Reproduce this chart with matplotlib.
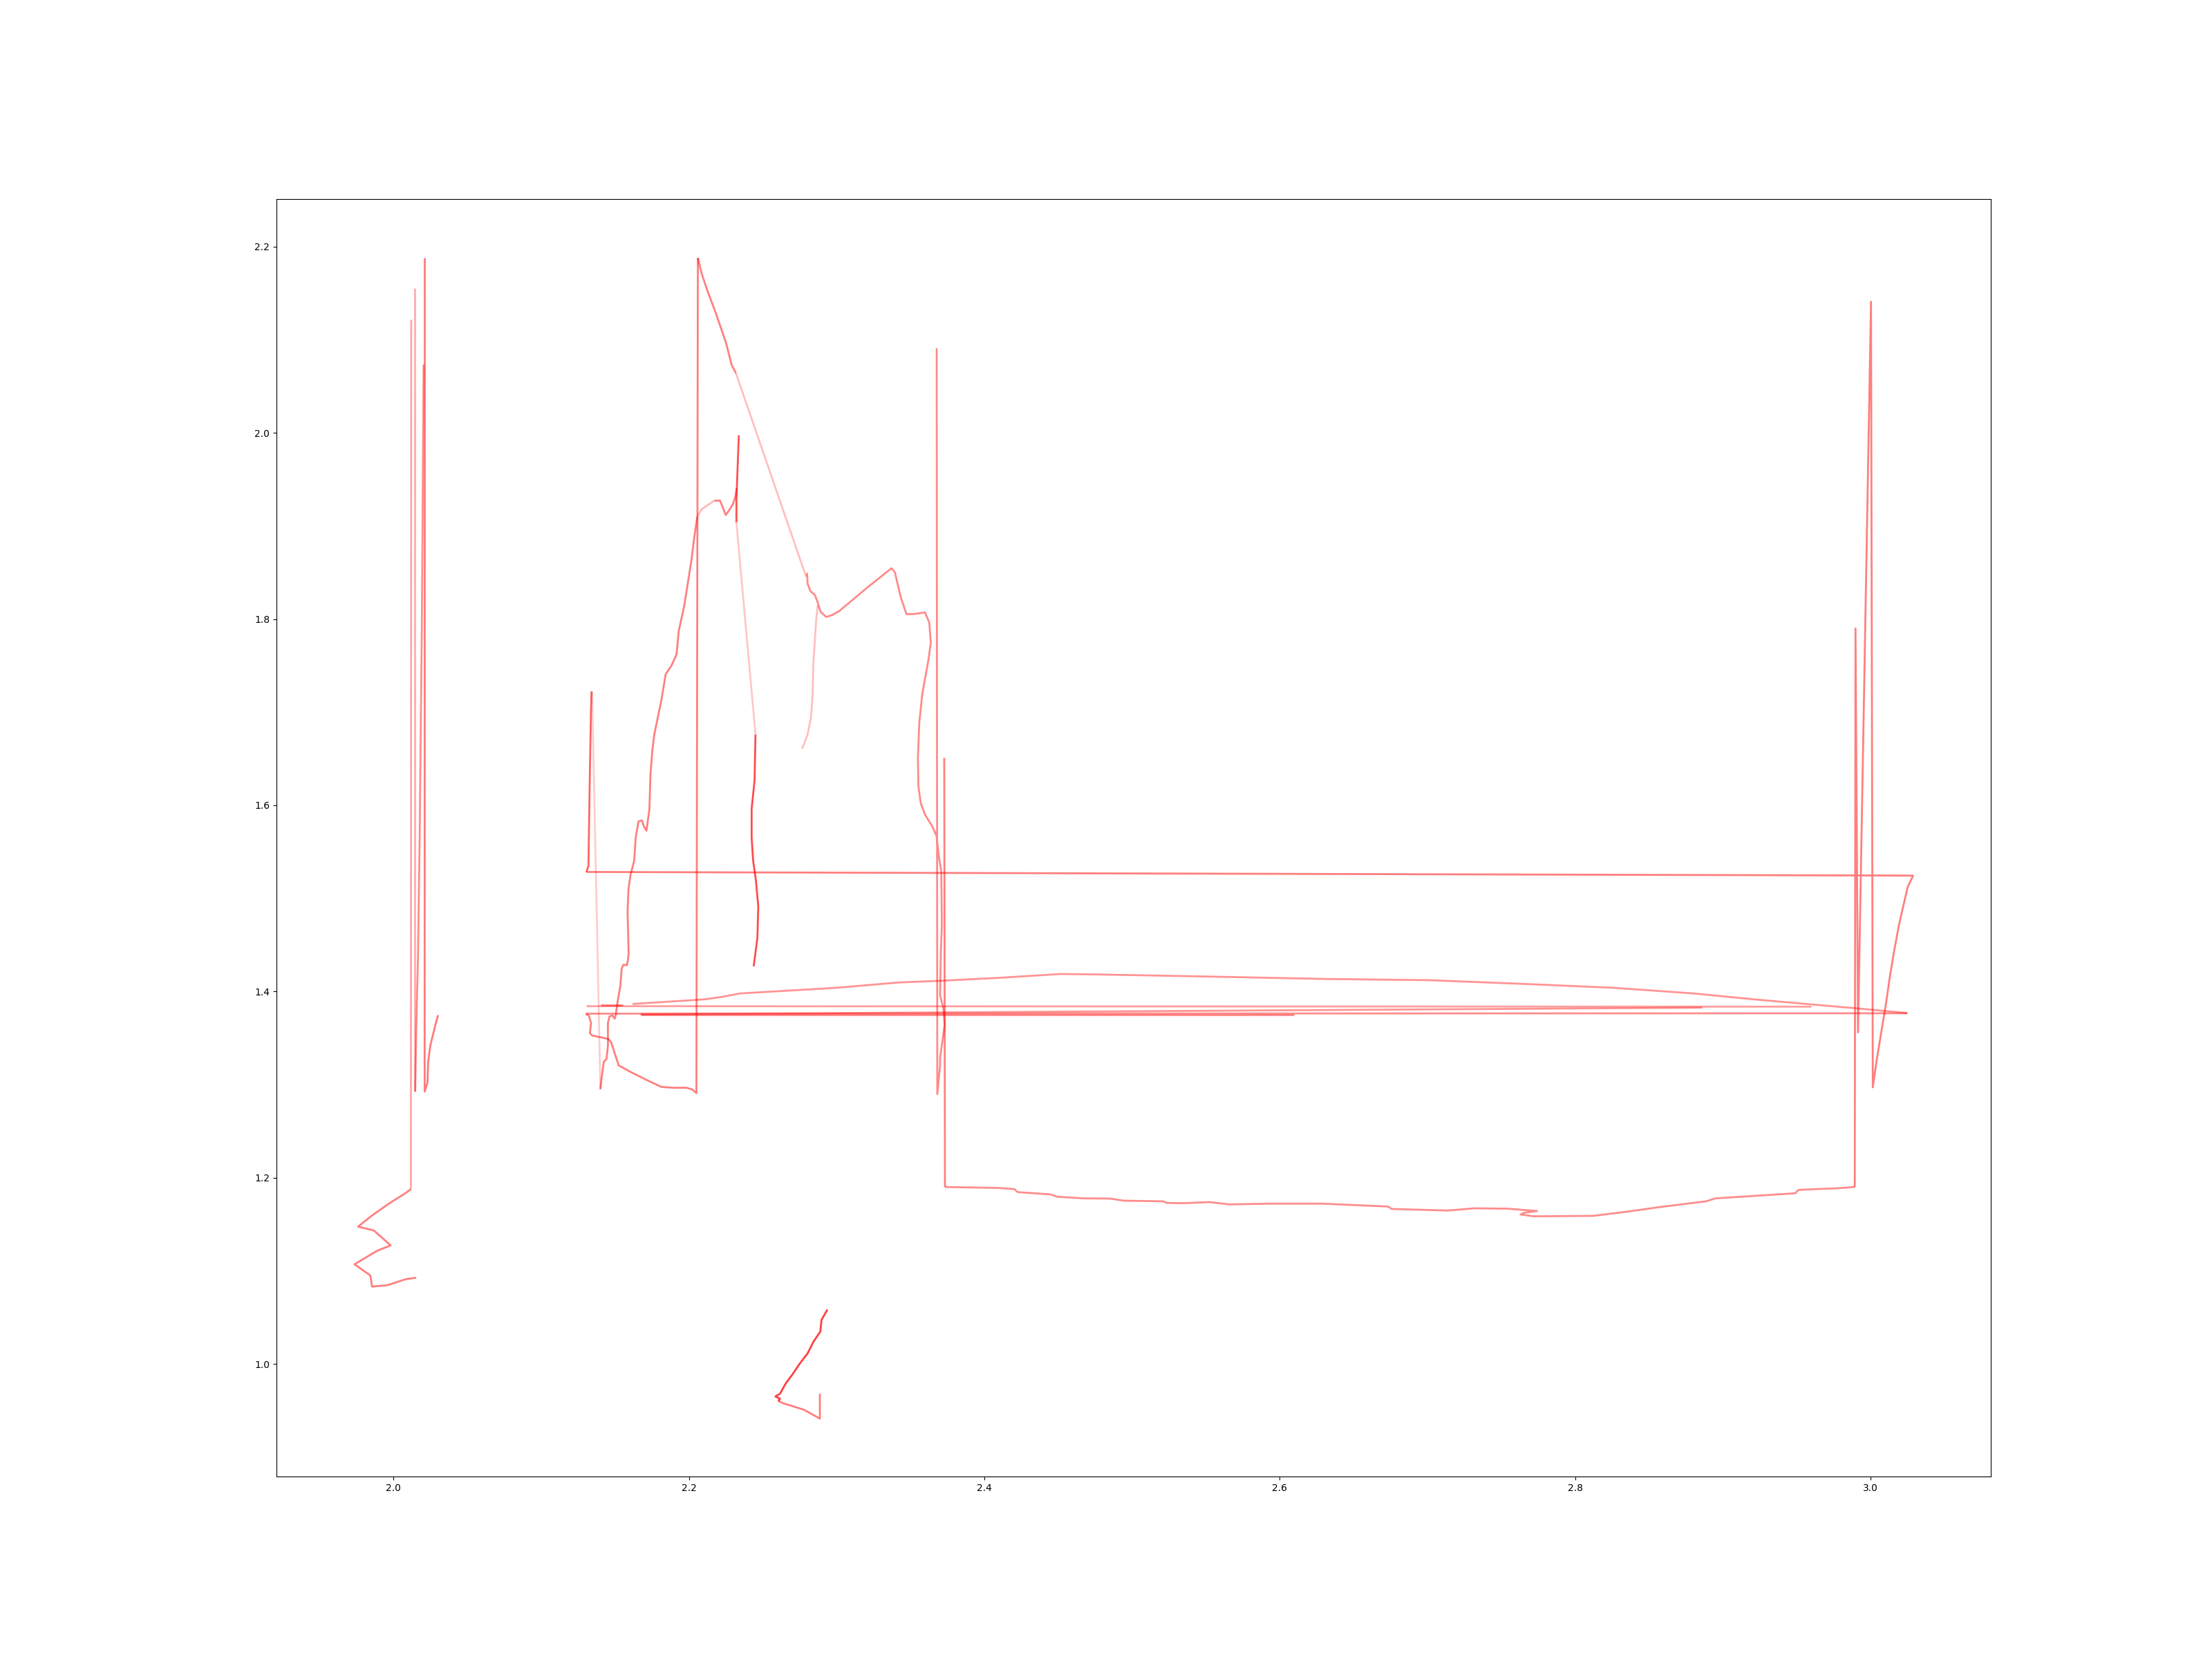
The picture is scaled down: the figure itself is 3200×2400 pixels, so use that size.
import matplotlib
matplotlib.use("Agg")
import matplotlib.pyplot as plt

# ---- data ----
# left cluster
sq_x = [2.0117, 2.0081, 1.9962, 1.9854, 1.9759, 1.9866, 1.9980, 1.9890, 1.9735, 1.9842, 1.9854, 1.9958, 2.0081, 2.0153]
sq_y = [1.1876, 1.1835, 1.1715, 1.1594, 1.1474, 1.1433, 1.1273, 1.1216, 1.1070, 1.0950, 1.0830, 1.0845, 1.0909, 1.0926]
lv1_x = [2.0117, 2.0119]
lv1_y = [1.1876, 2.1216]
lv2_x = [2.0143, 2.0143]
lv2_y = [1.2925, 2.1555]
lv3_x = [2.0203, 2.0191, 2.0184, 2.0177, 2.0165, 2.0153, 2.0146]
lv3_y = [2.0734, 1.7916, 1.6870, 1.5742, 1.4374, 1.3569, 1.2925]
lv4_x = [2.0211, 2.0210, 2.0229, 2.0234, 2.0249, 2.0272, 2.0284, 2.0301]
lv4_y = [2.1877, 1.2925, 1.3021, 1.3247, 1.3424, 1.3569, 1.3649, 1.3746]

# middle cluster
mv_x = [2.1305, 2.1319, 2.1328, 2.1336, 2.1340]
mv_y = [1.5284, 1.5346, 1.6270, 1.7008, 1.7223]
lt1_x = [2.1344, 2.1400]
lt1_y = [1.7223, 1.2951]
flank_x = [2.1400, 2.1407, 2.1423, 2.1441, 2.1451, 2.1451, 2.1462, 2.1482, 2.1497, 2.1504, 2.1516,
           2.1535, 2.1544, 2.1555, 2.1579, 2.1586, 2.1591, 2.1590, 2.1584, 2.1590, 2.1604, 2.1629,
           2.1639, 2.1658, 2.1681, 2.1697, 2.1712, 2.1732, 2.1739, 2.1751, 2.1765, 2.1813, 2.1842,
           2.1881, 2.1916, 2.1930, 2.1968, 2.2017, 2.2036, 2.2056]
flank_y = [1.2951, 1.3057, 1.3243, 1.3273, 1.3416, 1.3663, 1.3733, 1.3743, 1.3708, 1.3750, 1.3886,
           1.4059, 1.4245, 1.4287, 1.4282, 1.4332, 1.4406, 1.4484, 1.4854, 1.5099, 1.5253, 1.5407,
           1.5654, 1.5826, 1.5838, 1.5764, 1.5727, 1.5961, 1.6331, 1.6577, 1.6761, 1.7131, 1.7408,
           1.7500, 1.7623, 1.7869, 1.8146, 1.8639, 1.8885, 1.9100]
plat1_x = [2.2056, 2.2085, 2.2172]
plat1_y = [1.9100, 1.9180, 1.9273]
plat2_x = [2.2172, 2.2210, 2.2230, 2.2249, 2.2268, 2.2298, 2.2314, 2.2323]
plat2_y = [1.9273, 1.9273, 1.9193, 1.9119, 1.9160, 1.9236, 1.9316, 1.9408]
peak_x = [2.2337, 2.2331, 2.2321, 2.2321]
peak_y = [1.9974, 1.9716, 1.9285, 1.9040]
lt2_x = [2.2321, 2.2450]
lt2_y = [1.9040, 1.6761]
dk_x = [2.2450, 2.2444, 2.2424, 2.2424, 2.2434, 2.2453, 2.2469, 2.2463, 2.2438]
dk_y = [1.6761, 1.6270, 1.5961, 1.5654, 1.5407, 1.5192, 1.4915, 1.4577, 1.4270]
bsq_x = [2.1301, 2.1321, 2.1337, 2.1329, 2.1345, 2.1454, 2.1473, 2.1501, 2.1524, 2.1610, 2.1719,
         2.1813, 2.1891, 2.1984, 2.2023, 2.2050, 2.2060]
bsq_y = [1.3758, 1.3743, 1.3663, 1.3552, 1.3527, 1.3490, 1.3453, 1.3317, 1.3206, 1.3131, 1.3045,
         1.2975, 1.2966, 1.2966, 1.2946, 1.2909, 2.1880]
diag_x = [2.2060, 2.2085, 2.2124, 2.2182, 2.2250, 2.2289, 2.2318]
diag_y = [2.1880, 2.1716, 2.1530, 2.1285, 2.0970, 2.0730, 2.0640]
lt3_x = [2.2318, 2.2793]
lt3_y = [2.0640, 1.8454]
mtn_x = [2.2799, 2.2803, 2.2822, 2.2851, 2.2871, 2.2890, 2.2929, 2.2968, 2.3016, 2.3210, 2.3371,
         2.3394, 2.3433, 2.3472, 2.3520, 2.3598, 2.3627, 2.3637, 2.3621, 2.3579, 2.3559, 2.3550,
         2.3553, 2.3569, 2.3598, 2.3646, 2.3676, 2.3692, 2.3708, 2.3712, 2.3705, 2.3700, 2.3723,
         2.3731, 2.3700, 2.3700, 2.3681, 2.3677]
mtn_y = [1.8497, 1.8380, 1.8300, 1.8263, 1.8180, 1.8080, 1.8023, 1.8043, 1.8085, 1.8343, 1.8546,
         1.8503, 1.8239, 1.8054, 1.8054, 1.8072, 1.7962, 1.7746, 1.7562, 1.7192, 1.6884, 1.6515,
         1.6207, 1.6023, 1.5900, 1.5777, 1.5670, 1.5445, 1.5293, 1.4725, 1.4400, 1.3960, 1.3810,
         1.3640, 1.3290, 1.3206, 1.2897, 2.0910]
lt4_x = [2.2871, 2.2861, 2.2851, 2.2841, 2.2837, 2.2826, 2.2803, 2.2774, 2.2764]
lt4_y = [1.8146, 1.7992, 1.7746, 1.7500, 1.7192, 1.6946, 1.6761, 1.6638, 1.6608]
v2_x = [2.3728, 2.3733]
v2_y = [1.6510, 1.1900]

# bottom trace
bot_x = [2.3733, 2.4091, 2.4203, 2.4225, 2.4449, 2.4494, 2.4673, 2.4853, 2.4942, 2.5211, 2.5234,
         2.5345, 2.5525, 2.5659, 2.5928, 2.6286, 2.6734, 2.6757, 2.7137, 2.7317, 2.7541, 2.7742,
         2.7652, 2.7630, 2.7720, 2.8123, 2.8347, 2.8571, 2.8885, 2.8952, 2.9489, 2.9512, 2.9781,
         2.9893]
bot_y = [1.1900, 1.1890, 1.1877, 1.1845, 1.1820, 1.1795, 1.1778, 1.1775, 1.1753, 1.1746, 1.1729,
         1.1726, 1.1738, 1.1713, 1.1721, 1.1721, 1.1690, 1.1664, 1.1647, 1.1671, 1.1667, 1.1642,
         1.1622, 1.1605, 1.1585, 1.1590, 1.1634, 1.1684, 1.1746, 1.1778, 1.1832, 1.1869, 1.1887,
         1.1900]

# right spikes and return curve
rs_x = [2.9893, 2.9898, 2.9915, 3.0003, 3.0015, 3.0042, 3.0073, 3.0104, 3.0128, 3.0159, 3.0190,
        3.0213, 3.0252, 3.0288, 2.1305]
rs_y = [1.1900, 1.7900, 1.3560, 2.1410, 1.2970, 1.3270, 1.3568, 1.3866, 1.4132, 1.4430, 1.4696,
        1.4860, 1.5126, 1.5245, 1.5284]

# long near-horizontal returns
arc_x = [2.1618, 2.2109, 2.2221, 2.2347, 2.3000, 2.3419, 2.3688, 2.4091, 2.4516, 2.4762, 2.5434,
         2.6330, 2.7002, 2.7674, 2.8256, 2.8794, 2.9241, 2.9913, 3.0249]
arc_y = [1.3866, 1.3916, 1.3942, 1.3979, 1.4040, 1.4097, 1.4114, 1.4146, 1.4188, 1.4183, 1.4163,
         1.4134, 1.4122, 1.4080, 1.4040, 1.3980, 1.3911, 1.3818, 1.3768]
hs_x = [2.1400, 2.1550]
hs_y = [1.3857, 1.3857]
h1_x = [2.1306, 2.9600]
h1_y = [1.3842, 1.3837]
h2_x = [3.0249, 2.1301]
h2_y = [1.3766, 1.3762]
h3_x = [2.1672, 2.8860]
h3_y = [1.3755, 1.3826]
h4_x = [2.1672, 2.6096]
h4_y = [1.3750, 1.3750]

# lowest red curve
lo1_x = [2.2937, 2.2897, 2.2889, 2.2842, 2.2803, 2.2749, 2.2702, 2.2655, 2.2616, 2.2585, 2.2616, 2.2605]
lo1_y = [1.0583, 1.0472, 1.0347, 1.0236, 1.0113, 1.0001, 0.9890, 0.9790, 0.9679, 0.9650, 0.9625, 0.9600]
lo2_x = [2.2605, 2.2640, 2.2780, 2.2886, 2.2886]
lo2_y = [0.9600, 0.9576, 0.9506, 0.9412, 0.9679]

pieces = [
    (lv1_x, lv1_y, 0.35), (lv2_x, lv2_y, 0.33), (lv3_x, lv3_y, 0.45), (lv4_x, lv4_y, 0.52),
    (sq_x, sq_y, 0.5),
    (h1_x, h1_y, 0.38), (h2_x, h2_y, 0.45), (h3_x, h3_y, 0.42), (h4_x, h4_y, 0.45),
    (arc_x, arc_y, 0.42), (hs_x, hs_y, 0.5),
    (mv_x, mv_y, 0.6), (lt1_x, lt1_y, 0.2), (flank_x, flank_y, 0.5),
    (plat1_x, plat1_y, 0.28), (plat2_x, plat2_y, 0.5), (peak_x, peak_y, 0.68),
    (lt2_x, lt2_y, 0.22), (dk_x, dk_y, 0.7),
    (bsq_x, bsq_y, 0.5), (diag_x, diag_y, 0.5), (lt3_x, lt3_y, 0.25),
    (mtn_x, mtn_y, 0.46), (lt4_x, lt4_y, 0.25), (v2_x, v2_y, 0.5),
    (bot_x, bot_y, 0.45), (rs_x, rs_y, 0.5),
    (lo1_x, lo1_y, 0.75), (lo2_x, lo2_y, 0.5),
]

fig, ax = plt.subplots(figsize=(32, 24), dpi=100)
for xs, ys, a in pieces:
    ax.plot(xs, ys, color="red", alpha=a, linewidth=2.0, solid_capstyle="butt")

ax.set_xlim(1.9207, 3.0814)
ax.set_ylim(0.879, 2.2512)
fig.savefig("out.png", dpi=100)
